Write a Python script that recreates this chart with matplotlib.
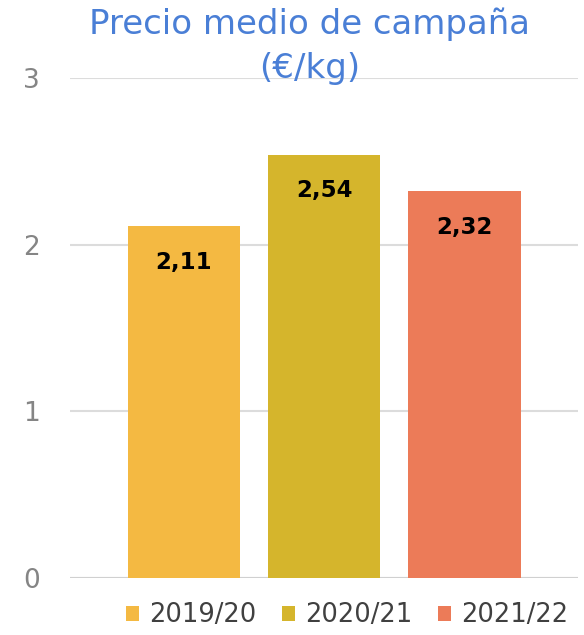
#!/usr/bin/python
#coding: utf8

import matplotlib
matplotlib.use("Agg")
import matplotlib.pyplot as plt

## data
campaigns = ["2019/20", "2020/21", "2021/22"]
prices = [2.11, 2.54, 2.32]
price_labels = ["2,11", "2,54", "2,32"]
colors = ["#F4B942", "#D5B52C", "#EC7B58"]

plt.rcParams['font.family'] = ['DejaVu Sans']

fig = plt.figure(figsize=(5.84, 6.35), dpi=100)
ax = fig.add_axes([0.12, 0.09, 0.87, 0.787])

## bars
positions = range(len(campaigns))
bars = ax.bar(positions, prices, width=0.8, color=colors, label=campaigns, zorder=3)

## value labels inside bars, near the top
for bar, txt in zip(bars, price_labels):
    ax.annotate(txt, (bar.get_x() + bar.get_width() / 2, bar.get_height()),
                xytext=(0, -26), textcoords="offset points",
                ha="center", va="center", fontsize=16.5, fontweight="bold",
                color="black", zorder=4)

## axes
ax.set_xlim(-0.81, 2.81)
ax.set_ylim(0, 3)
ax.set_yticks([0, 1, 2, 3])
ax.set_xticks([])
ax.tick_params(axis="y", length=0, pad=22, labelsize=19, labelcolor="#858585")
ax.yaxis.grid(True, color="#DCDCDC", linewidth=1.5, zorder=0)
for s in ax.spines.values():
    s.set_visible(False)
ax.axhline(0, color="#D0D0D0", linewidth=1.5, zorder=2)

## title
fig.text(0.53, 0.988, "Precio medio de campaña\n(€/kg)", ha="center", va="top",
         fontsize=24.5, color="#4A7FD6", linespacing=1.4)

## legend
fig.legend(handles=bars, labels=campaigns, loc="lower center",
           bbox_to_anchor=(0.595, -0.026), ncol=3, frameon=False,
           fontsize=18.5, labelcolor="#404040", handlelength=0.5, handleheight=0.5,
           handletextpad=0.4, columnspacing=1.0)

plt.savefig("out.png", dpi=100)
plt.close()
